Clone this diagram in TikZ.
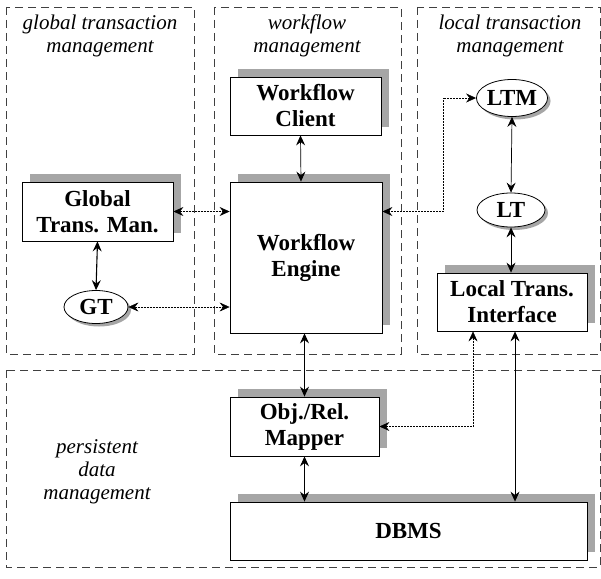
\documentclass[tikz,border=0pt]{standalone}
\usepackage{fontspec}
\setmainfont{Liberation Serif}
\usepackage{tikz}
\usetikzlibrary{arrows.meta,shadows,shapes.geometric}

\begin{document}
\begin{tikzpicture}[x=1pt, y=-1pt,
    >={Stealth[length=10pt,width=9pt,inset=3.5pt]},
    zone/.style={draw=black!75, dash pattern=on 8pt off 5pt, line width=0.6pt},
    zonelabel/.style={align=center, font=\fontsize{21}{23}\selectfont\itshape},
    unit/.style={draw, fill=white, line width=0.8pt, align=center, inner sep=0pt,
      font=\fontsize{23}{26}\selectfont\bfseries,
      drop shadow={shadow xshift=8pt, shadow yshift=8pt, fill=gray!70, opacity=1}},
    task/.style={ellipse, draw, fill=white, line width=0.8pt, inner sep=0pt,
      font=\fontsize{23}{26}\selectfont\bfseries,
      drop shadow={shadow xshift=3pt, shadow yshift=-3pt, fill=gray!70, opacity=1}},
    call/.style={<->, line width=0.5pt, densely dotted},
    link/.style={<->, line width=0.7pt}]
  \useasboundingbox (0,0) rectangle (601,578);
  % --- zones -------------------------------------------------------------
  \draw[zone] (6,7) rectangle (194,354);
  \draw[zone] (214,7) rectangle (401,354);
  \draw[zone] (417,7) rectangle (600,354);
  \draw[zone] (6,370) rectangle (600,567);
  \node[zonelabel] (lglobal) at (100,36) {global transaction\\management};
  \node[zonelabel] (lwork) at (307,36) {workflow\\management};
  \node[zonelabel] (llocal) at (510,36) {local transaction\\management};
  \node[zonelabel] (lpersist) at (97,472) {persistent\\data\\management};
  % --- components --------------------------------------------------------
  \node[unit, minimum width=151pt, minimum height=58pt] (wfc) at (305.5,106) {Workflow\\Client};
  \node[unit, minimum width=152pt, minimum height=151pt] (wfe) at (306,257.5) {Workflow\\Engine};
  \node[unit, minimum width=151pt, minimum height=59pt] (gtm) at (97.5,211.5) {Global\\Trans. Man.};
  \node[task, minimum width=64pt, minimum height=33pt] (gt) at (96,307) {GT};
  \node[task, minimum width=63pt, minimum height=37pt] (ltm) at (512,98) {LTM};
  \node[task, minimum width=68pt, minimum height=34pt] (lt) at (511,210) {LT};
  \node[unit, minimum width=150pt, minimum height=58pt] (lti) at (512,302) {Local Trans.\\Interface};
  \node[unit, minimum width=149pt, minimum height=59pt] (orm) at (304.5,426.5) {Obj./Rel.\\Mapper};
  \node[unit, minimum width=357pt, minimum height=58pt] (dbms) at (408.5,531) {DBMS};
  % --- connectors --------------------------------------------------------
  \draw[link] ([xshift=-5pt]wfc.south) -- ([xshift=-5pt]wfe.north);
  \draw[call] (gtm.east) -- (gtm.east -| wfe.west);
  \draw[link, line width=1.1pt] (gtm.south) -- (gt.north);
  \draw[call] (gt.east) -- (gt.east -| wfe.west);
  \draw[call] (ltm.west) -- ++(-33,0) |- (wfe.east |- gtm.east);
  \draw[link] (ltm.south) -- (lt.north);
  \draw[link] (lt.south) -- (lt.south |- lti.north);
  \draw[link] (orm.north) -- (orm.north |- wfe.south);
  \draw[call] ([xshift=-39pt]lti.south) |- (orm.east);
  \draw[link] ([xshift=3pt]lti.south) -- ([xshift=3pt]lti.south |- dbms.north);
  \draw[link] (orm.south) -- (orm.south |- dbms.north);
\end{tikzpicture}
\end{document}
